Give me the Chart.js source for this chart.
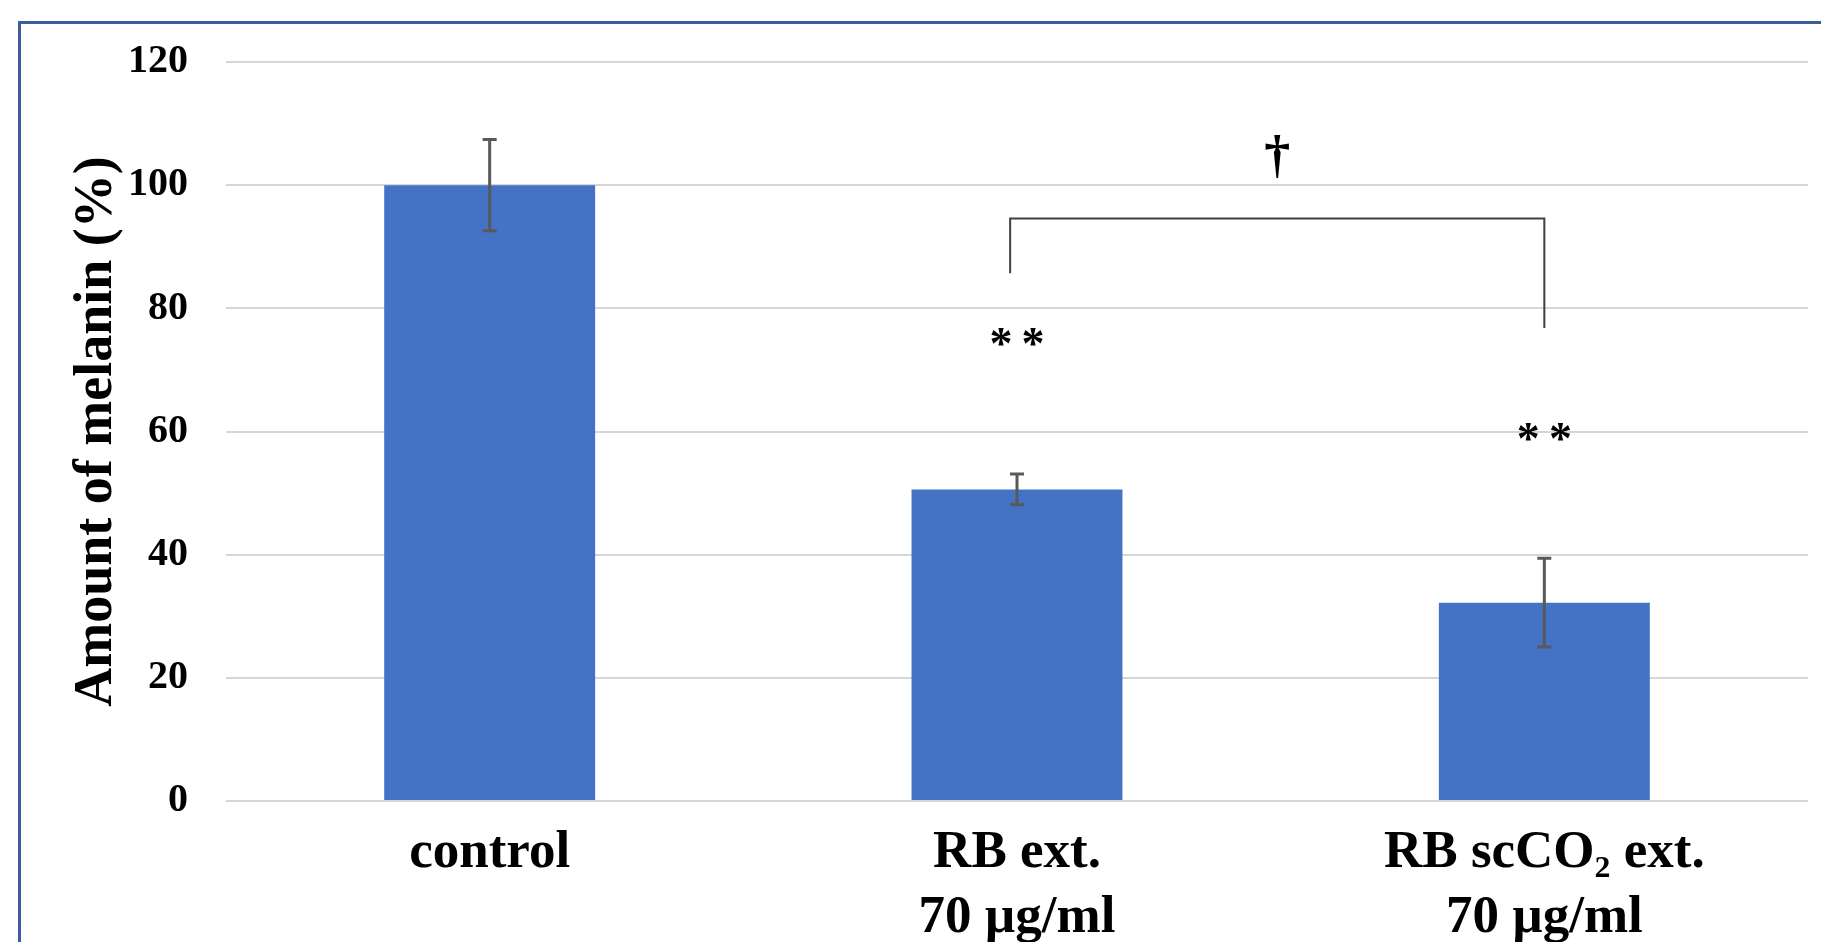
<!DOCTYPE html>
<html>
<head>
<meta charset="utf-8">
<script src="https://cdn.jsdelivr.net/npm/chart.js@4.4.1/dist/chart.umd.min.js"></script>
<style>
  html, body { margin: 0; padding: 0; background: #ffffff; }
  #wrap { position: relative; width: 1821px; height: 942px; overflow: hidden; }
  #frame { position: absolute; left: 18px; top: 21px; right: -10px; bottom: -10px;
           border-top: 3px solid #3b5c9e; border-left: 3px solid #3b5c9e; }
  canvas { position: absolute; left: 0; top: 0; }
</style>
</head>
<body>
<div id="wrap">
  <div id="frame"></div>
  <canvas id="melaninChart" width="1821" height="942"></canvas>
</div>
<script>
// Values
const categories = [["control"], ["RB ext.", "70 µg/ml"], ["RB scCO₂ ext.", "70 µg/ml"]];
const melanin = [100, 50.6, 32.2];
const errorBars = [7.4, 2.5, 7.2];
const starLabels = ["", "**", "**"];
const starLevels = [null, 75.1, 59.8];
const yTicks = [0, 20, 40, 60, 80, 100, 120];

// comparison bracket between RB ext. and RB scCO2 ext.
const bracketFrom = 0.987;
const bracketTo = 2;
const bracketTop = 94.6;
const bracketEnds = [85.7, 76.8];
const daggerLevel = 104.3;

const serif = "'Liberation Serif', 'Times New Roman', serif";

const errorBarPlugin = {
    id: 'errorBars',
    afterDatasetsDraw(chart) {
        const ctx = chart.ctx;
        const y = chart.scales.y;
        const meta = chart.getDatasetMeta(0);
        ctx.save();
        ctx.strokeStyle = '#595959';
        ctx.lineWidth = 3;
        meta.data.forEach((bar, i) => {
            const top = y.getPixelForValue(melanin[i] + errorBars[i]);
            const bot = y.getPixelForValue(melanin[i] - errorBars[i]);
            ctx.beginPath();
            ctx.moveTo(bar.x, top);
            ctx.lineTo(bar.x, bot);
            ctx.moveTo(bar.x - 7, top);
            ctx.lineTo(bar.x + 7, top);
            ctx.moveTo(bar.x - 7, bot);
            ctx.lineTo(bar.x + 7, bot);
            ctx.stroke();
        });
        ctx.restore();
    }
};

const annotationPlugin = {
    id: 'annotations',
    afterDraw(chart) {
        const ctx = chart.ctx;
        const x = chart.scales.x;
        const y = chart.scales.y;
        ctx.save();
        ctx.fillStyle = '#000000';
        ctx.textAlign = 'center';
        ctx.textBaseline = 'middle';

        // significance stars
        ctx.font = "bold 46px " + serif;
        starLabels.forEach((s, i) => {
            if (!s) return;
            ctx.fillText(s.split('').join(String.fromCharCode(8201)), x.getPixelForValue(i), y.getPixelForValue(starLevels[i]) + 9);
        });

        // bracket
        const xl = x.getPixelForValue(bracketFrom);
        const xr = x.getPixelForValue(bracketTo);
        ctx.strokeStyle = '#404040';
        ctx.lineWidth = 2;
        ctx.beginPath();
        ctx.moveTo(xl, y.getPixelForValue(bracketEnds[0]));
        ctx.lineTo(xl, y.getPixelForValue(bracketTop));
        ctx.lineTo(xr, y.getPixelForValue(bracketTop));
        ctx.lineTo(xr, y.getPixelForValue(bracketEnds[1]));
        ctx.stroke();

        // dagger
        ctx.font = "bold 52px " + serif;
        ctx.fillText('†', (xl + xr) / 2, y.getPixelForValue(daggerLevel));
        ctx.restore();
    }
};

const ctxMelanin = document.getElementById('melaninChart').getContext('2d');
const melaninChart = new Chart(ctxMelanin, {
    type: 'bar',
    data: {
        labels: categories,
        datasets: [{
            data: melanin,
            backgroundColor: '#4472c4',
            borderWidth: 0,
            barPercentage: 0.4,
            categoryPercentage: 1.0
        }]
    },
    options: {
        responsive: false,
        animation: false,
        devicePixelRatio: 1,
        layout: { padding: { top: 60, left: 0, right: 13, bottom: 0 } },
        plugins: {
            legend: { display: false },
            tooltip: { enabled: false }
        },
        scales: {
            x: {
                grid: { display: false },
                border: { display: false },
                ticks: {
                    color: '#000000',
                    padding: 12,
                    maxRotation: 0,
                    autoSkip: false,
                    font: { family: serif, size: 53, weight: 'bold', lineHeight: 1.23 }
                },
                afterFit(scale) { scale.height = 141; }
            },
            y: {
                min: 0,
                max: 120,
                afterBuildTicks(scale) { scale.ticks = yTicks.map(v => ({ value: v })); },
                grid: { color: '#d6d6d6', lineWidth: 2, drawTicks: false },
                border: { display: false },
                ticks: {
                    color: '#000000',
                    padding: 38,
                    font: { family: serif, size: 40, weight: 'bold' }
                },
                title: {
                    display: true,
                    text: 'Amount of melanin (%)',
                    color: '#000000',
                    padding: { top: 65, bottom: 0 },
                    font: { family: serif, size: 54, weight: 'bold', lineHeight: 1.2 }
                },
                afterFit(scale) { scale.width = 226; }
            }
        }
    },
    plugins: [errorBarPlugin, annotationPlugin]
});
</script>
</body>
</html>
